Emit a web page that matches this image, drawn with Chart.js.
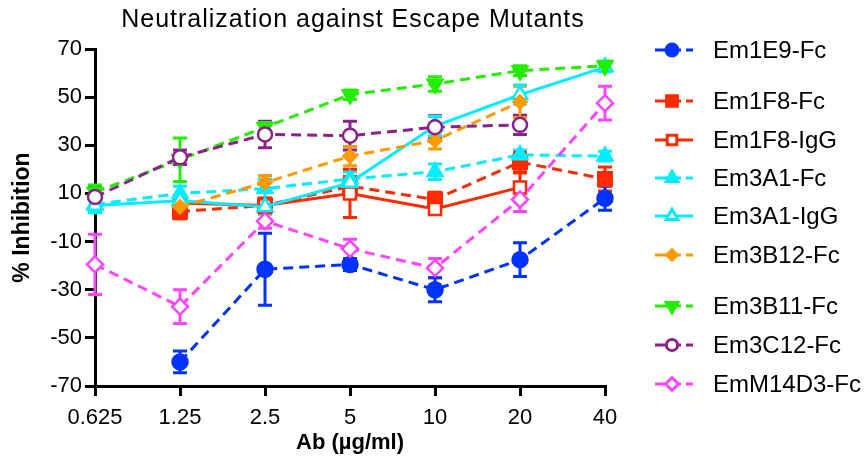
<!DOCTYPE html>
<html>
<head>
<meta charset="utf-8">
<script src="https://cdn.jsdelivr.net/npm/chart.js@4.4.0/dist/chart.umd.min.js"></script>
<style>
    html, body { margin: 0; padding: 0; background: #fff; }
    #wrap { width: 868px; height: 462px; position: relative; }
</style>
</head>
<body>
<div id="wrap"><canvas id="myChart"></canvas></div>
<script>
    //////////////////////////  DATOS  //////////////////////////

    const doses = ['0.625', '1.25', '2.5', '5', '10', '20', '40'];
    const yTicks = [-70, -50, -30, -10, 10, 30, 50, 70];

    const em1e9Fc   = [null, -60, -21.5, -19.5, -30, -17.5, 8];
    const em1e9FcErr = [null, 4.5, 15, 2.5, 5, 7, 5];

    const em1f8Fc   = [null, 2.5, 5, 13, 7.5, 23, 16];
    const em1f8FcErr = [null, 3, 3, 4, 3, 4, 5];

    const em1f8IgG  = [null, 6, 5, 10, 3.5, 12.5, null];
    const em1f8IgGErr = [null, 2, 3, 10, 2, 6, null];

    const em3a1Fc   = [5.5, 10, 12, 16, 19, 26, 25.5];
    const em3a1FcErr = [3, 3, 4, 3, 3.2, 2, 2];

    const em3a1IgG  = [5, 7, 4.5, 14.5, 38, 51, 62.5];
    const em3a1IgGErr = [3, 2, 3, 5, 4, 4, 2];

    const em3b12Fc  = [null, 4.5, 14.5, 25.5, 32, 48, null];
    const em3b12FcErr = [null, 5, 3, 4, 3.5, 6.5, null];

    const em3b11Fc  = [10.5, 24, 37.5, 51, 55.5, 61, 63];
    const em3b11FcErr = [3, 9, 2, 2, 3, 2, 2];

    const em3c12Fc  = [8.5, 25, 34.5, 34, 37.5, 38.5, null];
    const em3c12FcErr = [4, 3, 5.5, 6, 4.8, 4, null];

    const emm14d3Fc = [-19.5, -37, -1.5, -13, -21, 7.5, 47.5];
    const emm14d3FcErr = [12.5, 7, 3, 4, 4, 5, 7];

    //////////////////////////  ESTILO  //////////////////////////

    const FONT = "'Liberation Sans', Arial, sans-serif";
    const DASH = [10, 6];

    function serie(label, data, errors, color, style, opts) {
        return Object.assign({
            label: label,
            data: data,
            errors: errors,
            borderColor: color,
            backgroundColor: color,
            borderWidth: 3,
            borderDash: DASH,
            pointStyle: style,
            pointRadius: 7,
            pointBorderWidth: 2.5,
            pointBackgroundColor: color,
            pointBorderColor: color,
            pointRotation: 0,
            fill: false,
            tension: 0
        }, opts || {});
    }

    const datasets = [
        serie('EmM14D3-Fc', emm14d3Fc, emm14d3FcErr, '#ff44ff', 'rectRot', { pointBackgroundColor: '#fff', pointRadius: 8 }),
        serie('Em3C12-Fc', em3c12Fc, em3c12FcErr, '#8e208e', 'circle', { pointBackgroundColor: '#fff', pointRadius: 7 }),
        serie('Em3B11-Fc', em3b11Fc, em3b11FcErr, '#22ee00', 'triangle', { pointRotation: 180, pointRadius: 8.5 }),
        serie('Em3B12-Fc', em3b12Fc, em3b12FcErr, '#ff9900', 'rectRot', { pointRadius: 6.5 }),
        serie('Em3A1-IgG', em3a1IgG, em3a1IgGErr, '#00eeff', 'triangle', { borderDash: [], pointBackgroundColor: '#fff', pointRadius: 8.5 }),
        serie('Em3A1-Fc', em3a1Fc, em3a1FcErr, '#00eeff', 'triangle', { pointRadius: 8.5 }),
        serie('Em1F8-IgG', em1f8IgG, em1f8IgGErr, '#ff2a00', 'rect', { borderDash: [], pointBackgroundColor: '#fff', pointRadius: 8.5 }),
        serie('Em1F8-Fc', em1f8Fc, em1f8FcErr, '#ff2a00', 'rect', { pointRadius: 9.5 }),
        serie('Em1E9-Fc', em1e9Fc, em1e9FcErr, '#0033ff', 'circle', { pointRadius: 7.5 })
    ];

    // orden y posicion vertical de la leyenda (con huecos como en la figura)
    const legendOrder = ['Em1E9-Fc', 'Em1F8-Fc', 'Em1F8-IgG', 'Em3A1-Fc', 'Em3A1-IgG',
                         'Em3B12-Fc', 'Em3B11-Fc', 'Em3C12-Fc', 'EmM14D3-Fc'];
    const legendY = [50, 101, 140, 178, 216, 255, 306, 345, 384];

    //////////////////////////  PLUGINS  //////////////////////////

    // barras de error
    const errorBars = {
        id: 'errorBars',
        beforeDatasetsDraw(chart) {
            const ctx = chart.ctx;
            const xs = chart.scales.x, ys = chart.scales.y;
            chart.data.datasets.forEach(function (ds) {
                ctx.save();
                ctx.strokeStyle = ds.borderColor;
                ctx.lineWidth = 3;
                ctx.setLineDash([]);
                ds.data.forEach(function (v, j) {
                    const e = ds.errors[j];
                    if (v === null || e === null) return;
                    const px = xs.getPixelForValue(j);
                    const top = ys.getPixelForValue(v + e);
                    const bot = ys.getPixelForValue(v - e);
                    ctx.beginPath();
                    ctx.moveTo(px, top); ctx.lineTo(px, bot);
                    ctx.moveTo(px - 7, top); ctx.lineTo(px + 7, top);
                    ctx.moveTo(px - 7, bot); ctx.lineTo(px + 7, bot);
                    ctx.stroke();
                });
                ctx.restore();
            });
        }
    };

    // titulo y leyenda a mano
    const decor = {
        id: 'decor',
        afterDraw(chart) {
            const ctx = chart.ctx;
            ctx.save();
            ctx.fillStyle = '#000';
            ctx.font = '25px ' + FONT;
            ctx.letterSpacing = '1px';
            ctx.textAlign = 'center';
            ctx.textBaseline = 'middle';
            ctx.fillText('Neutralization against Escape Mutants', 353, 20);
            ctx.letterSpacing = '0px';

            legendOrder.forEach(function (name, i) {
                const ds = chart.data.datasets.find(d => d.label === name);
                const y = legendY[i];
                const dashed = ds.borderDash.length > 0;
                ctx.strokeStyle = ds.borderColor;
                ctx.lineWidth = 3;
                ctx.beginPath();
                if (dashed) {
                    ctx.moveTo(655, y); ctx.lineTo(681, y);
                    ctx.moveTo(686, y); ctx.lineTo(693, y);
                } else {
                    ctx.moveTo(655, y); ctx.lineTo(693, y);
                }
                ctx.stroke();
                ctx.fillStyle = ds.pointBackgroundColor;
                ctx.strokeStyle = ds.borderColor;
                Chart.helpers.drawPoint(ctx, {
                    pointStyle: ds.pointStyle,
                    radius: ds.pointRadius * 0.8,
                    rotation: ds.pointRotation,
                    borderWidth: 2.5
                }, 672, y);
                ctx.fillStyle = '#000';
                ctx.font = '24px ' + FONT;
                ctx.textAlign = 'left';
                ctx.fillText(name, 713, y + 1);
            });
            ctx.restore();
        }
    };

    //////////////////////////  GRÁFICO  //////////////////////////

    const chartCanvas = document.getElementById('myChart');

    const myChart = new Chart(chartCanvas, {
        type: 'line',
        data: { labels: doses, datasets: datasets },
        options: {
            responsive: true,
            maintainAspectRatio: false,
            animation: false,
            layout: { padding: { top: 49, right: 263, left: 0, bottom: 0 } },
            plugins: {
                legend: { display: false },
                title: { display: false },
                tooltip: { enabled: false }
            },
            scales: {
                x: {
                    type: 'category',
                    offset: false,
                    grid: { drawOnChartArea: false, drawTicks: true, tickLength: 10, color: '#000', lineWidth: 3 },
                    border: { color: '#000', width: 3 },
                    ticks: { color: '#000', font: { family: FONT, size: 22 }, padding: 9, maxRotation: 0, autoSkip: false },
                    title: { display: true, text: 'Ab (µg/ml)', color: '#000', font: { family: FONT, size: 22, weight: 'bold' }, padding: { top: 0, bottom: 6 } },
                    afterFit(scale) { scale.height = 76; }
                },
                y: {
                    min: -70,
                    max: 70,
                    afterBuildTicks(scale) { scale.ticks = yTicks.map(v => ({ value: v })); },
                    grid: { drawOnChartArea: false, drawTicks: true, tickLength: 10, color: '#000', lineWidth: 3 },
                    border: { color: '#000', width: 3 },
                    ticks: { color: '#000', font: { family: FONT, size: 22 }, padding: 3 },
                    title: { display: true, text: '% Inhibition', color: '#000', font: { family: FONT, size: 23, weight: 'bold' }, padding: { top: 9, bottom: 0 } },
                    afterFit(scale) { scale.width = 95; }
                }
            }
        },
        plugins: [errorBars, decor]
    });
</script>
</body>
</html>
